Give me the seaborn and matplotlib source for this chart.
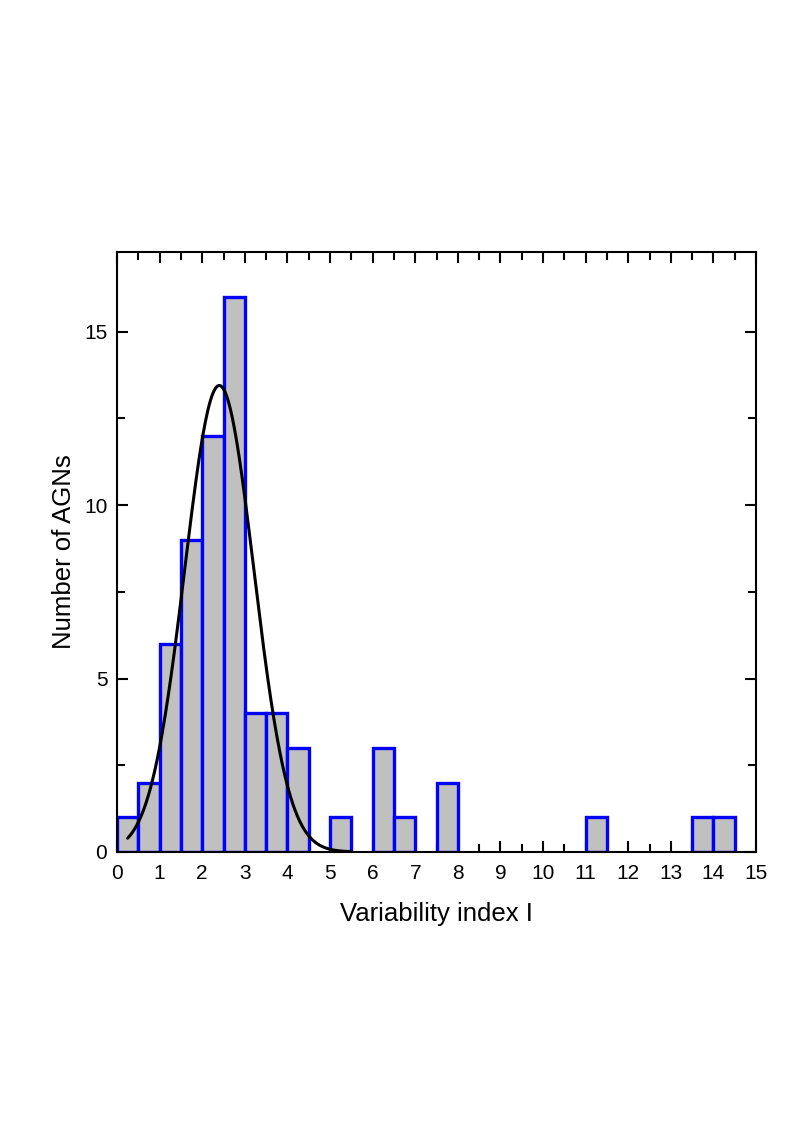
import numpy as np
import pandas as pd
import seaborn as sns
import matplotlib
matplotlib.use("Agg")
import matplotlib.pyplot as plt
from matplotlib.ticker import MultipleLocator

# -------------------------------
# DATA
# -------------------------------
bin_centers = [0.25, 0.75, 1.25, 1.75, 2.25, 2.75, 3.25, 3.75, 4.25,
               5.25, 6.25, 6.75, 7.75, 11.25, 13.75, 14.25]
bin_counts = [1, 2, 6, 9, 12, 16, 4, 4, 3, 1, 3, 1, 2, 1, 1, 1]

# gaussian fit drawn over the histogram
fit_amp = 13.45
fit_center = 2.4
fit_sigma = 0.81
fit_range = (0.25, 5.5)

hist_df = pd.DataFrame({"index": bin_centers, "count": bin_counts})

# -------------------------------
# STYLE
# -------------------------------
sns.set_theme(style="white")
plt.rcParams["font.family"] = ["Liberation Sans", "DejaVu Sans"]
plt.rcParams["xtick.direction"] = "in"
plt.rcParams["ytick.direction"] = "in"
plt.rcParams["text.color"] = "black"
plt.rcParams["axes.labelcolor"] = "black"
plt.rcParams["xtick.labelcolor"] = "black"
plt.rcParams["ytick.labelcolor"] = "black"

fig = plt.figure(figsize=(7.88, 11.34), dpi=100)
ax = fig.add_axes([0.1485, 0.2487, 0.8109, 0.5291])

sns.histplot(
    data=hist_df, x="index", weights="count",
    binwidth=0.5, binrange=(0, 15),
    color="#c0c0c0", edgecolor="#0000ff", linewidth=2.4, alpha=1,
    ax=ax,
)
# drop empty bins so no blue edge runs along the baseline
for p in list(ax.patches):
    if p.get_height() == 0:
        p.remove()

xs = np.linspace(fit_range[0], fit_range[1], 300)
ys = fit_amp * np.exp(-(xs - fit_center) ** 2 / (2 * fit_sigma ** 2))
sns.lineplot(x=xs, y=ys, color="black", linewidth=2.2, ax=ax)

ax.set_xlim(0, 15)
ax.set_ylim(0, 17.3)
ax.xaxis.set_major_locator(MultipleLocator(1))
ax.xaxis.set_minor_locator(MultipleLocator(0.5))
ax.yaxis.set_major_locator(MultipleLocator(5))
ax.yaxis.set_minor_locator(MultipleLocator(2.5))
ax.tick_params(which="both", top=True, right=True, bottom=True, left=True,
               width=1.5, color="black", labelsize=15)
ax.tick_params(axis="x", pad=9)
ax.tick_params(axis="y", pad=7)
ax.tick_params(which="major", length=8)
ax.tick_params(which="minor", length=6)
for s in ax.spines.values():
    s.set_color("black")
    s.set_linewidth(1.5)

ax.set_xlabel("Variability index I", fontsize=18.5, labelpad=13)
ax.set_ylabel("Number of AGNs", fontsize=18.5, labelpad=6)

fig.savefig("out.png", dpi=100)
